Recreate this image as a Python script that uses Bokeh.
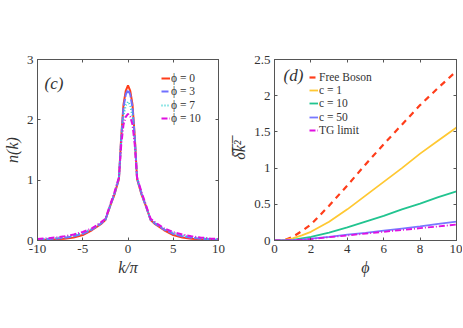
from bokeh.plotting import figure
from bokeh.models import (Legend, LegendItem, LinearAxis, FixedTicker, Label, Range1d)
from bokeh.layouts import row
from bokeh.embed import file_html
from bokeh.resources import INLINE

# ---------------- data: panel (c) ----------------
k = [-10, -9, -8, -7, -6, -5, -4, -3.5, -3, -2.5, -2, -1.5, -1, -0.75, -0.5, -0.25, 0,
     0.25, 0.5, 0.75, 1, 1.5, 2, 2.5, 3, 3.5, 4, 5, 6, 7, 8, 9, 10]
n_phi0 = [0.008, 0.012, 0.02, 0.03, 0.05, 0.09, 0.17, 0.22, 0.27, 0.34, 0.56, 0.76, 1.02, 1.72, 2.25, 2.48, 2.57,
          2.48, 2.25, 1.72, 1.02, 0.76, 0.56, 0.34, 0.27, 0.22, 0.17, 0.09, 0.05, 0.03, 0.02, 0.012, 0.008]
n_phi3 = [0.012, 0.02, 0.03, 0.045, 0.07, 0.11, 0.18, 0.23, 0.28, 0.34, 0.56, 0.77, 1.03, 1.70, 2.20, 2.42, 2.50,
          2.42, 2.20, 1.70, 1.03, 0.77, 0.56, 0.34, 0.28, 0.23, 0.18, 0.11, 0.07, 0.045, 0.03, 0.02, 0.012]
n_phi7 = [0.018, 0.028, 0.04, 0.06, 0.085, 0.125, 0.19, 0.24, 0.29, 0.35, 0.57, 0.78, 1.04, 1.65, 2.06, 2.24, 2.30,
          2.24, 2.06, 1.65, 1.04, 0.78, 0.57, 0.35, 0.29, 0.24, 0.19, 0.125, 0.085, 0.06, 0.04, 0.028, 0.018]
n_phi10 = [0.025, 0.035, 0.05, 0.07, 0.10, 0.14, 0.20, 0.25, 0.30, 0.36, 0.58, 0.80, 1.05, 1.58, 1.92, 2.05, 2.10,
           2.05, 1.92, 1.58, 1.05, 0.80, 0.58, 0.36, 0.30, 0.25, 0.20, 0.14, 0.10, 0.07, 0.05, 0.035, 0.025]
c_labels = ["ϕ = 0", "ϕ = 3", "ϕ = 7", "ϕ = 10"]
c_xticks = [-10, -5, 0, 5, 10]
c_xtick_labels = ["-10", "-5", "0", "5", "10"]
c_yticks = [0, 1, 2, 3]
c_ytick_labels = ["0", "1", "2", "3"]

# ---------------- data: panel (d) ----------------
phi = [0, 0.5, 1, 1.5, 2, 3, 4, 5, 6, 7, 8, 9, 10]
free_boson = [0.0, 0.0, 0.05, 0.13, 0.22, 0.48, 0.76, 1.05, 1.33, 1.60, 1.87, 2.11, 2.34]
c1 = [0.0, 0.005, 0.03, 0.07, 0.12, 0.26, 0.43, 0.62, 0.81, 1.00, 1.20, 1.38, 1.56]
c10 = [0.0, 0.002, 0.01, 0.03, 0.05, 0.11, 0.18, 0.26, 0.34, 0.43, 0.51, 0.60, 0.68]
c50 = [0.0, 0.001, 0.005, 0.013, 0.025, 0.05, 0.08, 0.105, 0.135, 0.165, 0.195, 0.23, 0.26]
tg = [0.0, 0.001, 0.005, 0.011, 0.02, 0.045, 0.07, 0.095, 0.12, 0.145, 0.17, 0.195, 0.22]
d_labels = ["Free Boson", "c = 1", "c = 10", "c = 50", "TG limit"]
d_xticks = [0, 2, 4, 6, 8, 10]
d_xtick_labels = ["0", "2", "4", "6", "8", "10"]
d_yticks = [0, 0.5, 1, 1.5, 2, 2.5]
d_ytick_labels = ["0", "0.5", "1", "1.5", "2", "2.5"]

FONT = "Liberation Serif"
AX = "#555555"


def style(p, xticks, xlabels, yticks, ylabels, xlab, ylab):
    p.outline_line_color = AX
    p.outline_line_width = 1
    p.grid.visible = False
    p.background_fill_color = "white"
    p.border_fill_color = "white"
    for ax, ticks, labels, lab in ((p.xaxis[0], xticks, xlabels, xlab), (p.yaxis[0], yticks, ylabels, ylab)):
        ax.ticker = FixedTicker(ticks=ticks)
        ax.major_label_overrides = {t: l for t, l in zip(ticks, labels)}
        ax.major_tick_in = 3
        ax.major_tick_out = 0
        ax.minor_tick_in = 0
        ax.minor_tick_out = 0
        ax.axis_line_color = AX
        ax.major_tick_line_color = AX
        ax.major_label_text_font = FONT
        ax.major_label_text_font_size = "13px"
        ax.major_label_text_color = "#333333"
        ax.major_label_standoff = 4
        ax.axis_label = lab
        ax.axis_label_text_font = FONT
        ax.axis_label_text_font_size = "16px"
        ax.axis_label_text_font_style = "italic"
        ax.axis_label_text_color = "#333333"
        ax.axis_label_standoff = 3
    for loc, ticks in (("above", xticks), ("right", yticks)):
        a = LinearAxis(ticker=FixedTicker(ticks=ticks), major_tick_in=3, major_tick_out=0,
                       minor_tick_in=0, minor_tick_out=0,
                       major_label_overrides={t: "" for t in ticks},
                       major_label_standoff=0, axis_line_color=AX, major_tick_line_color=AX)
        p.add_layout(a, loc)


def add_legend(p, labels, renderers, x, y_top, step):
    # one single-entry legend per item, stacked with a fixed step
    for i, (lab, r) in enumerate(zip(labels, renderers)):
        leg = Legend(items=[LegendItem(label=lab, renderers=[r])], location=(x, y_top - i * step),
                     padding=0, margin=0, spacing=0,
                     glyph_width=9, glyph_height=12, label_height=12, label_standoff=1,
                     label_text_font=FONT, label_text_font_size="11.5px",
                     label_text_color="#333333", border_line_color=None, background_fill_alpha=0)
        p.add_layout(leg, "center")


# ---------------- panel (c) ----------------
p1 = figure(frame_width=181, frame_height=181,
            x_range=Range1d(-10, 10), y_range=Range1d(0, 3),
            output_backend="svg", toolbar_location=None,
            min_border_left=28, min_border_right=10, min_border_top=59, min_border_bottom=45)
style(p1, c_xticks, c_xtick_labels, c_yticks, c_ytick_labels, "k/π", "n(k)")
r0 = p1.line(k, n_phi0, line_color="#ff3d1a", line_width=2)
r3 = p1.line(k, n_phi3, line_color="#7070ff", line_width=2, line_dash="7 2")
r7 = p1.line(k, n_phi7, line_color="#2ccfcf", line_width=2, line_dash="1 2")
r10 = p1.line(k, n_phi10, line_color="#e010e0", line_width=2, line_dash="6 2 1 2")
add_legend(p1, c_labels, [r0, r3, r7, r10], 124, 156, 13.4)
p1.add_layout(Label(x=7, y=157, x_units="screen", y_units="screen", text="(c)", text_font=FONT,
                    text_font_size="17px", text_font_style="italic", text_color="#333333",
                    text_baseline="middle"))

# ---------------- panel (d) ----------------
p2 = figure(frame_width=182, frame_height=181,
            x_range=Range1d(0, 10), y_range=Range1d(0, 2.5),
            output_backend="svg", toolbar_location=None,
            min_border_left=40, min_border_right=6, min_border_top=59, min_border_bottom=45)
style(p2, d_xticks, d_xtick_labels, d_yticks, d_ytick_labels, "ϕ", "δ\u0305k\u0305²\u0305")
q0 = p2.line(phi, free_boson, line_color="#ff3d1a", line_width=2.2, line_dash="6 5")
q1 = p2.line(phi, c1, line_color="#ffc832", line_width=1.8)
q2 = p2.line(phi, c10, line_color="#22c490", line_width=1.8)
q3 = p2.line(phi, c50, line_color="#7878ff", line_width=1.8)
q4 = p2.line(phi, tg, line_color="#e010e0", line_width=1.8, line_dash="6 2 1 2")
add_legend(p2, d_labels, [q0, q1, q2, q3, q4], 35, 157, 13.2)
p2.add_layout(Label(x=9, y=165, x_units="screen", y_units="screen", text="(d)", text_font=FONT,
                    text_font_size="17px", text_font_style="italic", text_color="#333333",
                    text_baseline="middle"))

layout = row(p1, p2)
open("out.html", "w").write(file_html(layout, INLINE))
